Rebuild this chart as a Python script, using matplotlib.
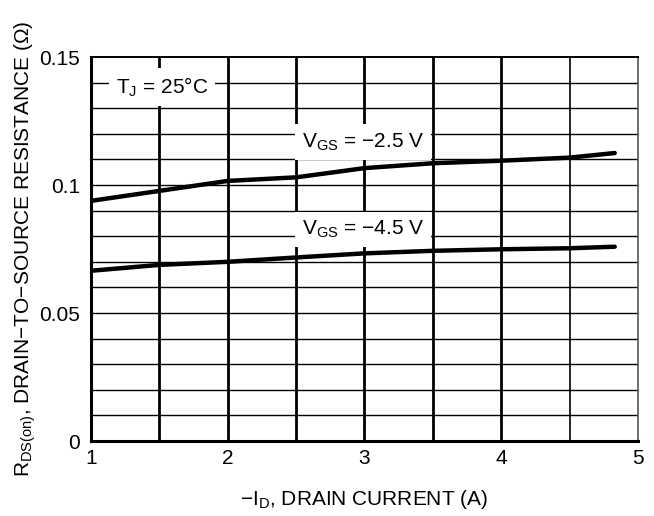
import numpy as np
import matplotlib.pyplot as plt

plt.rcParams['font.family'] = ['Liberation Sans', 'DejaVu Sans']

# drain current (A)
id_25 = [1.0, 1.5, 2.0, 2.5, 3.0, 3.5, 4.0, 4.5, 4.83]
r_25 = [0.0938, 0.0977, 0.1016, 0.1030, 0.1066, 0.1085, 0.1095, 0.1107, 0.1125]

id_45 = [1.0, 1.5, 2.0, 2.5, 3.0, 3.5, 4.0, 4.5, 4.83]
r_45 = [0.0665, 0.0688, 0.0700, 0.0717, 0.0733, 0.0743, 0.0749, 0.0753, 0.0759]

x_ticks = [1, 2, 3, 4, 5]
y_ticks = [0, 0.05, 0.1, 0.15]
y_tick_labels = ["0", "0.05", "0.1", "0.15"]

fs = 15

fig = plt.figure(figsize=(6.54, 5.16), dpi=100)
ax = fig.add_axes([0.139, 0.1453, 0.8365, 0.7442])

ax.set_xlim(1, 5)
ax.set_ylim(0, 0.15)

# grid
for yv in np.arange(0.01, 0.15, 0.01):
    ax.axhline(yv, color='black', lw=1.0, zorder=1)
for xv in [1.5, 2.0, 2.5, 3.0, 3.5, 4.0]:
    ax.axvline(xv, color='black', lw=2.0, zorder=1)
ax.axvline(4.5, color='black', lw=1.2, zorder=1)

ax.plot(id_25, r_25, color='black', lw=3.2, solid_capstyle='round', zorder=4)
ax.plot(id_45, r_45, color='black', lw=3.2, solid_capstyle='round', zorder=4)

box = dict(facecolor='white', edgecolor='none', pad=5)
ax.text(1.52, 0.1383, r"T$_\mathregular{J}$ = 25°C", fontsize=fs,
        ha='center', va='center', bbox=box, zorder=3)
ax.text(2.99, 0.1168, r"V$_\mathregular{GS}$ = −2.5 V", fontsize=fs,
        ha='center', va='center', bbox=box, zorder=3)
ax.text(2.99, 0.0826, r"V$_\mathregular{GS}$ = −4.5 V", fontsize=fs,
        ha='center', va='center', bbox=box, zorder=3)

ax.set_xticks(x_ticks)
ax.set_yticks(y_ticks)
ax.set_yticklabels(y_tick_labels)
ax.tick_params(axis='y', length=0, labelsize=fs, pad=8)
ax.tick_params(axis='x', length=0, labelsize=fs, pad=6)

for side in ['left', 'bottom']:
    ax.spines[side].set_linewidth(2.2)
ax.spines['top'].set_linewidth(1.4)
ax.spines['right'].set_linewidth(1.2)
ax.spines['right'].set_color('#555555')

ax.set_xlabel(r"−I$_\mathregular{D}$, DRAIN CURRENT (A)", fontsize=fs, labelpad=14)
ax.set_ylabel(r"R$_\mathregular{DS(on)}$, DRAIN−TO−SOURCE RESISTANCE (Ω)",
              fontsize=fs, labelpad=1)

plt.savefig("out.png", dpi=100)
